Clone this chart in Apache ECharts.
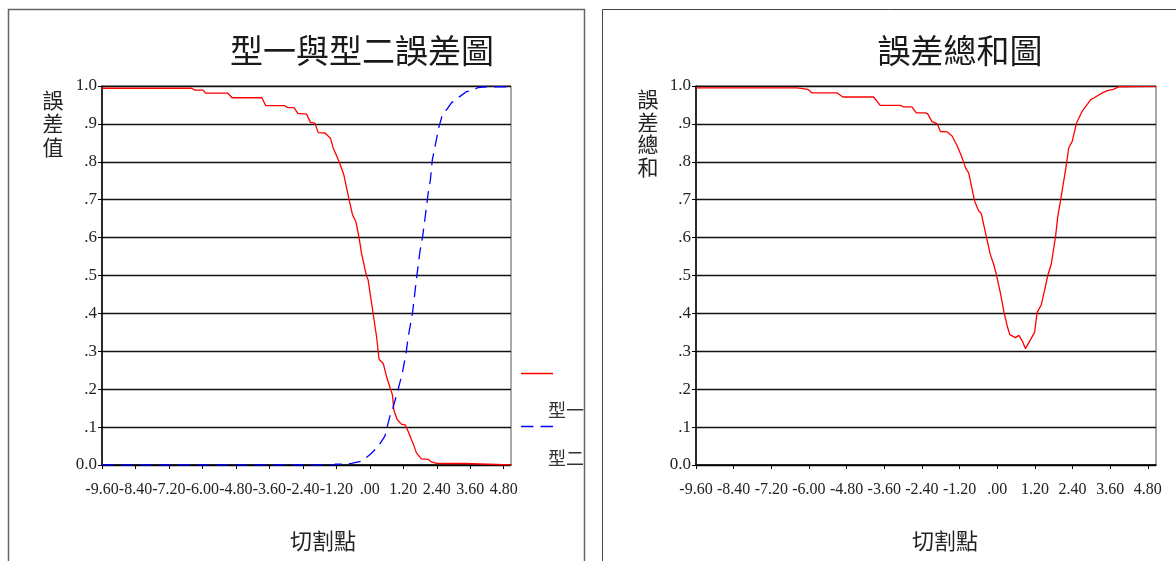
<!DOCTYPE html>
<html>
<head>
<meta charset="utf-8">
<script src="https://cdn.jsdelivr.net/npm/echarts@6/dist/echarts.min.js"></script>
<style>
html,body{margin:0;padding:0;background:#fff;}
#c{width:1176px;height:561px;}
</style>
</head>
<body>
<div id="c"></div>
<script>
// ---- data ----
var leftTitle = '型一與型二誤差圖';
var rightTitle = '誤差總和圖';
var xAxisTitle = '切割點';
var leftYTitle = '誤差值';
var rightYTitle = '誤差總和';
var legendNames = ['型一', '型二'];
var xTickValues = [-9.6, -8.4, -7.2, -6.0, -4.8, -3.6, -2.4, -1.2, 0, 1.2, 2.4, 3.6, 4.8];

// Type I error (red, left chart)
var type1X = [-9.60,-6.39,-6.27,-5.98,-5.88,-5.09,-4.94,-3.87,-3.73,-3.05,-2.94,-2.72,-2.58,-2.27,-2.13,-1.97,-1.85,-1.61,-1.41,-1.32,-1.10,-0.93,-0.74,-0.62,-0.50,-0.38,-0.30,-0.12,-0.06,0.12,0.24,0.33,0.48,0.60,0.72,0.81,0.86,0.98,1.13,1.28,1.41,1.55,1.67,1.85,2.09,2.21,2.39,3.40,3.46,5.06];
var type1Y = [0.994,0.994,0.989,0.989,0.981,0.981,0.969,0.969,0.948,0.948,0.943,0.943,0.928,0.926,0.904,0.902,0.877,0.876,0.862,0.838,0.800,0.765,0.699,0.660,0.642,0.598,0.559,0.499,0.488,0.399,0.339,0.279,0.268,0.233,0.205,0.185,0.145,0.120,0.108,0.105,0.082,0.057,0.032,0.016,0.015,0.008,0.004,0.004,0.0,0.0];

// Type II error (blue dashed, left chart)
var type2X = [-9.60,-1.33,-1.25,-0.96,-0.66,-0.30,0.00,0.30,0.54,0.63,0.72,0.83,1.01,1.17,1.31,1.37,1.53,1.67,1.79,1.89,1.97,2.09,2.17,2.24,2.36,2.48,2.58,2.66,2.75,2.93,3.04,3.22,3.46,3.70,3.88,4.18,5.06];
var type2Y = [0.0,0.0,0.002,0.002,0.004,0.010,0.027,0.049,0.076,0.103,0.129,0.151,0.198,0.244,0.301,0.336,0.401,0.490,0.560,0.602,0.646,0.717,0.752,0.805,0.849,0.893,0.919,0.932,0.937,0.956,0.961,0.972,0.985,0.989,0.996,0.998,0.998];

// Total error (red, right chart)
var totalX = [-9.60,-6.39,-6.34,-6.03,-5.91,-5.11,-4.92,-3.94,-3.73,-3.09,-2.98,-2.72,-2.58,-2.29,-2.22,-2.08,-1.92,-1.81,-1.60,-1.44,-1.28,-1.12,-1.01,-0.91,-0.72,-0.59,-0.51,-0.34,-0.22,-0.11,-0.02,0.10,0.21,0.32,0.40,0.58,0.69,0.80,0.90,1.19,1.27,1.40,1.49,1.61,1.72,1.86,1.93,2.02,2.18,2.28,2.39,2.53,2.71,2.98,3.09,3.35,3.51,3.70,3.88,5.03,5.06];
var totalY = [0.995,0.995,0.991,0.991,0.982,0.982,0.971,0.971,0.949,0.949,0.945,0.945,0.929,0.929,0.927,0.906,0.901,0.880,0.879,0.868,0.843,0.811,0.784,0.771,0.696,0.670,0.664,0.600,0.555,0.529,0.500,0.454,0.406,0.366,0.344,0.336,0.342,0.327,0.307,0.350,0.402,0.422,0.454,0.500,0.529,0.604,0.656,0.699,0.780,0.837,0.854,0.903,0.934,0.964,0.969,0.982,0.988,0.991,0.998,0.999,1.0];

function pairs(xs, ys){ return xs.map(function(x,i){ return [x, ys[i]]; }); }

var NUMFONT = '"Liberation Serif", "Times New Roman", serif';
var CJKFONT = '"Noto Sans CJK TC", "Noto Sans CJK SC", sans-serif';

function xLabel(v){
  for (var i=0;i<xTickValues.length;i++){
    if (Math.abs(xTickValues[i]-v) < 1e-6){
      var s = xTickValues[i].toFixed(2);
      if (s === '0.00') s = '.00';
      return s;
    }
  }
  return '';
}
function yLabel(v){
  if (Math.abs(v) < 1e-9) return '0.0';
  if (Math.abs(v-1) < 1e-9) return '1.0';
  return v.toFixed(1).replace(/^0/, '');
}

function makeX(gi){
  return {
    type:'value', gridIndex:gi, min:-9.6, max:5.06, interval:1.2,
    splitLine:{show:false},
    axisLine:{show:true, onZero:false, lineStyle:{color:'#000', width:1.5}},
    axisTick:{show:true, inside:false, length:4, lineStyle:{color:'#000'}},
    axisLabel:{formatter:xLabel, margin:17, color:'#222', fontFamily:NUMFONT, fontSize:16, showMinLabel:true, showMaxLabel:false, hideOverlap:false}
  };
}
function makeY(gi){
  return {
    type:'value', gridIndex:gi, min:0, max:1, interval:0.1,
    splitLine:{show:true, lineStyle:{color:'#111', width:1.3}},
    axisLine:{show:true, onZero:false, lineStyle:{color:'#000', width:1.5}},
    axisTick:{show:true, inside:false, length:4, lineStyle:{color:'#000'}},
    axisLabel:{formatter:yLabel, margin:5, color:'#222', fontFamily:NUMFONT, fontSize:17, showMinLabel:true, showMaxLabel:true}
  };
}

var chart = echarts.init(document.getElementById('c'), null, {renderer:'canvas'});
var option = {
  animation:false,
  backgroundColor:'#fff',
  grid:[
    {left:102, top:86, width:409, height:379, show:true, borderColor:'#555', borderWidth:1, backgroundColor:'transparent'},
    {left:696, top:86, width:460, height:379, show:true, borderColor:'#555', borderWidth:1, backgroundColor:'transparent'}
  ],
  xAxis:[makeX(0), makeX(1)],
  yAxis:[makeY(0), makeY(1)],
  series:[
    {name:legendNames[0], type:'line', xAxisIndex:0, yAxisIndex:0, data:pairs(type1X,type1Y), showSymbol:false, symbol:'none',
     lineStyle:{color:'#ff0000', width:1.3}, z:5},
    {name:legendNames[1], type:'line', xAxisIndex:0, yAxisIndex:0, data:pairs(type2X,type2Y), showSymbol:false, symbol:'none',
     lineStyle:{color:'#0000ff', width:1.3, type:[12,7]}, z:5},
    {name:'total', type:'line', xAxisIndex:1, yAxisIndex:1, data:pairs(totalX,totalY), showSymbol:false, symbol:'none',
     lineStyle:{color:'#ff0000', width:1.3}, z:5}
  ],
  graphic:[
    {type:'rect', shape:{x:8.5, y:9.5, width:576, height:620}, style:{fill:'none', stroke:'#666', lineWidth:1.5}, silent:true},
    {type:'rect', shape:{x:602.5, y:9.5, width:620, height:620}, style:{fill:'none', stroke:'#444', lineWidth:1}, silent:true},
    {type:'text', x:362, y:50, style:{text:leftTitle, font:'33px '+CJKFONT, fill:'#1a1a1a', align:'center', verticalAlign:'middle'}},
    {type:'text', x:960, y:50, style:{text:rightTitle, font:'33px '+CJKFONT, fill:'#1a1a1a', align:'center', verticalAlign:'middle'}},
    {type:'text', x:53, y:88, style:{text:leftYTitle.split('').join('\n'), font:'21px '+CJKFONT, lineHeight:23.5, fill:'#222', align:'center', verticalAlign:'top'}},
    {type:'text', x:648, y:88, style:{text:rightYTitle.split('').join('\n'), font:'21px '+CJKFONT, lineHeight:22.5, fill:'#222', align:'center', verticalAlign:'top'}},
    {type:'text', x:323, y:541, style:{text:xAxisTitle, font:'22px '+CJKFONT, fill:'#222', align:'center', verticalAlign:'middle'}},
    {type:'text', x:945, y:541, style:{text:xAxisTitle, font:'22px '+CJKFONT, fill:'#222', align:'center', verticalAlign:'middle'}},
    {type:'line', shape:{x1:521, y1:373.5, x2:553, y2:373.5}, style:{stroke:'#ff0000', lineWidth:1.5}},
    {type:'line', shape:{x1:521, y1:426.5, x2:553, y2:426.5}, style:{stroke:'#0000ff', lineWidth:1.5, lineDash:[12.5,7]}},
    {type:'text', x:548, y:410, style:{text:legendNames[0], font:'18px '+CJKFONT, fill:'#333', align:'left', verticalAlign:'middle'}},
    {type:'text', x:548, y:458, style:{text:legendNames[1], font:'18px '+CJKFONT, fill:'#333', align:'left', verticalAlign:'middle'}}
  ]
};
chart.setOption(option);
</script>
</body>
</html>
